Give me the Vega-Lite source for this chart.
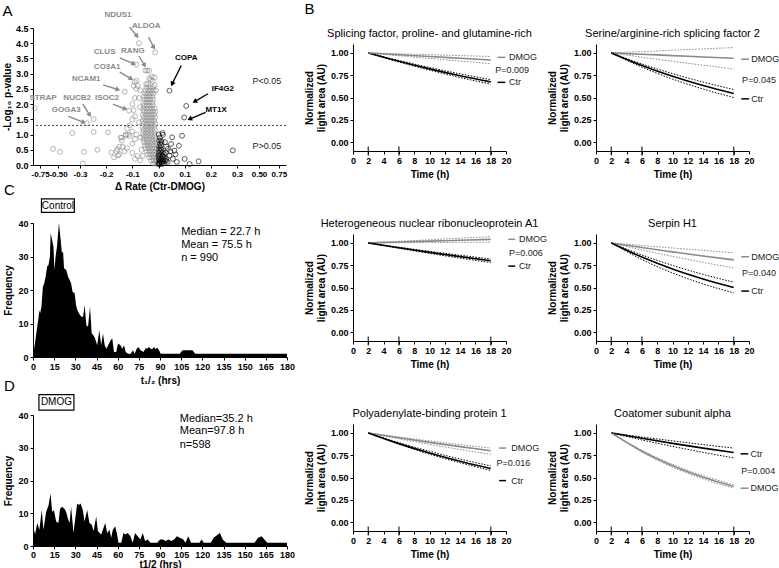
{
"$schema": "https://vega.github.io/schema/vega-lite/v6.json",
"padding": {"left": 2, "top": 2, "right": 0, "bottom": 0},
"background": "white",
"config": {
  "view": {"stroke": null},
  "font": "Liberation Sans",
  "axis": {"grid": false, "domainColor": "black", "tickColor": "black", "labelColor": "black", "titleColor": "black", "labelFont": "Liberation Sans", "titleFont": "Liberation Sans", "labelFontWeight": "bold", "labelFontSize": 9, "titleFontWeight": "bold", "titleFontSize": 10, "tickSize": 3, "labelPadding": 2, "labelFlush": false, "labelOverlap": false, "labelBound": false},
  "title": {"font": "Liberation Sans", "color": "black", "fontWeight": "normal"},
  "text": {"font": "Liberation Sans"}
},
"datasets": {
  "vol": [
    {"dr":-0.02,"lp":0.05},{"dr":-0.012,"lp":0.05},{"dr":-0.005,"lp":0.05},
    {"dr":-0.028,"lp":0.15},{"dr":-0.018,"lp":0.15},{"dr":-0.008,"lp":0.15},
    {"dr":-0.035,"lp":0.25},{"dr":-0.024,"lp":0.25},{"dr":-0.013,"lp":0.25},{"dr":-0.004,"lp":0.25},
    {"dr":-0.04,"lp":0.35},{"dr":-0.03,"lp":0.35},{"dr":-0.019,"lp":0.35},{"dr":-0.009,"lp":0.35},
    {"dr":-0.045,"lp":0.45},{"dr":-0.034,"lp":0.45},{"dr":-0.023,"lp":0.45},{"dr":-0.012,"lp":0.45},
    {"dr":-0.05,"lp":0.55},{"dr":-0.038,"lp":0.55},{"dr":-0.027,"lp":0.55},{"dr":-0.016,"lp":0.55},{"dr":-0.006,"lp":0.55},
    {"dr":-0.052,"lp":0.65},{"dr":-0.041,"lp":0.65},{"dr":-0.03,"lp":0.65},{"dr":-0.019,"lp":0.65},{"dr":-0.008,"lp":0.65},
    {"dr":-0.055,"lp":0.75},{"dr":-0.044,"lp":0.75},{"dr":-0.033,"lp":0.75},{"dr":-0.022,"lp":0.75},{"dr":-0.011,"lp":0.75},
    {"dr":-0.056,"lp":0.85},{"dr":-0.045,"lp":0.85},{"dr":-0.034,"lp":0.85},{"dr":-0.023,"lp":0.85},{"dr":-0.012,"lp":0.85},
    {"dr":-0.058,"lp":0.95},{"dr":-0.047,"lp":0.95},{"dr":-0.036,"lp":0.95},{"dr":-0.025,"lp":0.95},{"dr":-0.014,"lp":0.95},
    {"dr":-0.06,"lp":1.05},{"dr":-0.049,"lp":1.05},{"dr":-0.038,"lp":1.05},{"dr":-0.027,"lp":1.05},{"dr":-0.016,"lp":1.05},
    {"dr":-0.058,"lp":1.15},{"dr":-0.047,"lp":1.15},{"dr":-0.036,"lp":1.15},{"dr":-0.025,"lp":1.15},{"dr":-0.014,"lp":1.15},
    {"dr":-0.06,"lp":1.25},{"dr":-0.049,"lp":1.25},{"dr":-0.038,"lp":1.25},{"dr":-0.027,"lp":1.25},{"dr":-0.016,"lp":1.25},
    {"dr":-0.057,"lp":1.35},{"dr":-0.046,"lp":1.35},{"dr":-0.035,"lp":1.35},{"dr":-0.024,"lp":1.35},{"dr":-0.013,"lp":1.35},
    {"dr":-0.06,"lp":1.45},{"dr":-0.049,"lp":1.45},{"dr":-0.038,"lp":1.45},{"dr":-0.027,"lp":1.45},{"dr":-0.016,"lp":1.45},
    {"dr":-0.057,"lp":1.55},{"dr":-0.046,"lp":1.55},{"dr":-0.035,"lp":1.55},{"dr":-0.024,"lp":1.55},{"dr":-0.013,"lp":1.55},
    {"dr":-0.06,"lp":1.65},{"dr":-0.049,"lp":1.65},{"dr":-0.038,"lp":1.65},{"dr":-0.027,"lp":1.65},{"dr":-0.016,"lp":1.65},
    {"dr":-0.056,"lp":1.75},{"dr":-0.045,"lp":1.75},{"dr":-0.034,"lp":1.75},{"dr":-0.023,"lp":1.75},{"dr":-0.013,"lp":1.75},
    {"dr":-0.058,"lp":1.85},{"dr":-0.047,"lp":1.85},{"dr":-0.036,"lp":1.85},{"dr":-0.025,"lp":1.85},{"dr":-0.015,"lp":1.85},
    {"dr":-0.055,"lp":1.95},{"dr":-0.044,"lp":1.95},{"dr":-0.033,"lp":1.95},{"dr":-0.022,"lp":1.95},
    {"dr":-0.057,"lp":2.05},{"dr":-0.046,"lp":2.05},{"dr":-0.035,"lp":2.05},{"dr":-0.024,"lp":2.05},
    {"dr":-0.054,"lp":2.15},{"dr":-0.043,"lp":2.15},{"dr":-0.032,"lp":2.15},{"dr":-0.021,"lp":2.15},
    {"dr":-0.056,"lp":2.25},{"dr":-0.045,"lp":2.25},{"dr":-0.034,"lp":2.25},{"dr":-0.023,"lp":2.25},
    {"dr":-0.052,"lp":2.35},{"dr":-0.041,"lp":2.35},{"dr":-0.03,"lp":2.35},{"dr":-0.02,"lp":2.35},
    {"dr":-0.05,"lp":2.45},{"dr":-0.039,"lp":2.45},{"dr":-0.028,"lp":2.45},{"dr":-0.018,"lp":2.45},
    {"dr":-0.046,"lp":2.55},{"dr":-0.034,"lp":2.55},{"dr":-0.022,"lp":2.55},
    {"dr":-0.03,"lp":2.8},{"dr":-0.022,"lp":2.75},{"dr":-0.04,"lp":2.65},{"dr":-0.015,"lp":2.62},{"dr":-0.01,"lp":2.45},{"dr":-0.07,"lp":2.45},{"dr":-0.08,"lp":2.6},{"dr":-0.085,"lp":2.5},{"dr":-0.09,"lp":2.2},{"dr":-0.1,"lp":2.0},{"dr":-0.095,"lp":1.8},{"dr":-0.09,"lp":1.6},{"dr":-0.1,"lp":1.5},{"dr":-0.11,"lp":1.3},{"dr":-0.12,"lp":1.2},{"dr":-0.1,"lp":1.1},{"dr":-0.085,"lp":1.0},{"dr":-0.09,"lp":0.85},{"dr":-0.1,"lp":0.7},{"dr":-0.12,"lp":0.55},{"dr":-0.13,"lp":0.45},{"dr":-0.1,"lp":0.4},{"dr":-0.08,"lp":0.3},{"dr":-0.07,"lp":0.15},{"dr":-0.09,"lp":0.2},{"dr":-0.11,"lp":0.95},{"dr":-0.125,"lp":1.0},{"dr":-0.14,"lp":0.9},{"dr":-0.15,"lp":0.6},{"dr":-0.16,"lp":0.45},{"dr":-0.15,"lp":0.35},{"dr":-0.17,"lp":0.25},{"dr":-0.14,"lp":0.8},{"dr":-0.075,"lp":1.4},{"dr":-0.07,"lp":1.9},{"dr":-0.075,"lp":2.2},{"dr":-0.068,"lp":0.9},{"dr":-0.065,"lp":0.5},{"dr":-0.06,"lp":0.3},{"dr":-0.035,"lp":2.85},{"dr":-0.025,"lp":2.9},
    {"dr":-0.095,"lp":2.6},{"dr":-0.091,"lp":2.72},{"dr":-0.047,"lp":2.66},{"dr":-0.015,"lp":2.88},
    {"dr":-0.075,"lp":4.0},{"dr":-0.013,"lp":3.7},{"dr":-0.085,"lp":3.3},{"dr":-0.05,"lp":3.1},{"dr":-0.043,"lp":3.1},{"dr":-0.036,"lp":3.1},{"dr":-0.084,"lp":2.77},{"dr":-0.129,"lp":2.41},{"dr":-0.113,"lp":1.79},{"dr":-0.248,"lp":1.51},{"dr":-0.274,"lp":1.37},{"dr":-0.826,"lp":1.87},
    {"dr":-0.57,"lp":0.53},{"dr":-0.37,"lp":1.05},{"dr":-0.48,"lp":0.43},{"dr":-0.285,"lp":0.43},{"dr":-0.289,"lp":0.05},{"dr":-0.248,"lp":1.08},{"dr":-0.234,"lp":0.5},{"dr":-0.193,"lp":1.07},{"dr":-0.18,"lp":0.41},{"dr":-0.158,"lp":0.52},{"dr":-0.155,"lp":0.31},{"dr":-0.145,"lp":0.9},{"dr":-0.126,"lp":0.97},{"dr":-0.138,"lp":0.6},{"dr":-0.117,"lp":1.0},
    {"dr":0.042,"lp":2.44},{"dr":0.106,"lp":1.94},{"dr":0.098,"lp":1.56},
    {"dr":0.017,"lp":0.99},{"dr":0.052,"lp":0.91},{"dr":0.01,"lp":0.8},{"dr":0.09,"lp":0.96},{"dr":0.048,"lp":0.69},{"dr":0.078,"lp":0.63},{"dr":0.036,"lp":0.53},{"dr":0.061,"lp":0.47},{"dr":0.021,"lp":0.36},{"dr":0.1,"lp":0.2},{"dr":0.119,"lp":0.03},{"dr":0.153,"lp":0.12},{"dr":0.284,"lp":0.48},{"dr":0.042,"lp":0.31},{"dr":0.029,"lp":0.14},{"dr":0.015,"lp":1.05},{"dr":0.025,"lp":0.75},{"dr":0.03,"lp":0.6},{"dr":0.045,"lp":0.45},{"dr":0.055,"lp":0.2},{"dr":0.065,"lp":0.35},{"dr":0.07,"lp":0.1},
    {"dr":0.002,"lp":0.02},{"dr":0.005,"lp":0.05},{"dr":0.008,"lp":0.1},{"dr":0.004,"lp":0.15},{"dr":0.01,"lp":0.2},{"dr":0.012,"lp":0.08},{"dr":0.015,"lp":0.12},{"dr":0.006,"lp":0.25},{"dr":0.003,"lp":0.3},{"dr":0.009,"lp":0.35},{"dr":0.014,"lp":0.28},{"dr":0.018,"lp":0.18},{"dr":0.02,"lp":0.06},{"dr":0.001,"lp":0.4},{"dr":0.007,"lp":0.45},{"dr":0.011,"lp":0.5},{"dr":0.016,"lp":0.42},{"dr":0.022,"lp":0.25},{"dr":0.025,"lp":0.15},{"dr":0.003,"lp":0.6},{"dr":0.006,"lp":0.7},{"dr":0.01,"lp":0.65},{"dr":0.002,"lp":0.8},{"dr":0.004,"lp":0.1},{"dr":0.001,"lp":0.2},{"dr":0.013,"lp":0.03},{"dr":0.017,"lp":0.3},{"dr":0.008,"lp":0.55},{"dr":0.028,"lp":0.4},{"dr":0.03,"lp":0.2},{"dr":0.035,"lp":0.1},{"dr":0.005,"lp":0.9},{"dr":0.001,"lp":1.0},{"dr":0.012,"lp":0.75},{"dr":0.0,"lp":0.05},{"dr":0.0,"lp":0.3},{"dr":0.002,"lp":0.5}
  ],
  "arrows": [
    {"n":"NDUS1","g":"gray","x1":-0.11,"y1":4.53,"x2":-0.082,"y2":4.23,"a":141},
    {"n":"ALDOA","g":"gray","x1":-0.038,"y1":4.2,"x2":-0.018,"y2":3.86,"a":147},
    {"n":"CLUS","g":"gray","x1":-0.148,"y1":3.52,"x2":-0.094,"y2":3.32,"a":113},
    {"n":"RANG","g":"gray","x1":-0.075,"y1":3.58,"x2":-0.053,"y2":3.27,"a":149},
    {"n":"CO3A1","g":"gray","x1":-0.148,"y1":3.05,"x2":-0.104,"y2":2.83,"a":120},
    {"n":"NCAM1","g":"gray","x1":-0.212,"y1":2.63,"x2":-0.155,"y2":2.48,"a":107},
    {"n":"ISOC2","g":"gray","x1":-0.174,"y1":2.0,"x2":-0.127,"y2":1.84,"a":112},
    {"n":"NUCB2","g":"gray","x1":-0.289,"y1":2.0,"x2":-0.263,"y2":1.64,"a":149},
    {"n":"GOGA3","g":"gray","x1":-0.406,"y1":1.6,"x2":-0.286,"y2":1.4,"a":113},
    {"n":"COPA","g":"black","x1":0.087,"y1":3.27,"x2":0.052,"y2":2.66,"a":206},
    {"n":"IF4G2","g":"black","x1":0.189,"y1":2.34,"x2":0.138,"y2":2.08,"a":240},
    {"n":"MT1X","g":"black","x1":0.18,"y1":1.73,"x2":0.119,"y2":1.51,"a":247}
  ],
  "labs": [
    {"n":"NDUS1","g":"gray","x":-0.155,"y":4.93},{"n":"ALDOA","g":"gray","x":-0.047,"y":4.56},{"n":"CLUS","g":"gray","x":-0.206,"y":3.71},{"n":"RANG","g":"gray","x":-0.098,"y":3.76},{"n":"CO3A1","g":"gray","x":-0.196,"y":3.21},{"n":"NCAM1","g":"gray","x":-0.276,"y":2.83},{"n":"ISOC2","g":"gray","x":-0.197,"y":2.19},{"n":"NUCB2","g":"gray","x":-0.326,"y":2.19},{"n":"GOGA3","g":"gray","x":-0.425,"y":1.81},{"n":"STRAP","g":"gray","x":-0.71,"y":2.19},{"n":"COPA","g":"black","x":0.106,"y":3.51},{"n":"IF4G2","g":"black","x":0.246,"y":2.5},{"n":"MT1X","g":"black","x":0.22,"y":1.82}
  ],
  "ptxt": [{"label":"P<0.05","x":0.78,"y":2.76},{"label":"P>0.05","x":0.78,"y":0.62}],
  "cut": [{"y":1.3}],
  "ctrl": [
    {"h":0,"f":0},{"h":1,"f":3},{"h":2,"f":6},{"h":3,"f":9},{"h":4,"f":12},{"h":4.5,"f":14},{"h":5,"f":13},{"h":6,"f":15},{"h":7,"f":21},{"h":8,"f":22},{"h":9,"f":24},{"h":10,"f":27},{"h":11,"f":27.5},{"h":12,"f":30},{"h":12.5,"f":37},{"h":13.5,"f":35},{"h":14.5,"f":33},{"h":15.2,"f":26},{"h":16,"f":30},{"h":17,"f":33},{"h":18.4,"f":40},{"h":19.6,"f":35},{"h":20.5,"f":31},{"h":21.3,"f":31.5},{"h":22,"f":26.5},{"h":23.6,"f":26},{"h":24.8,"f":24},{"h":26,"f":23},{"h":27,"f":22},{"h":28,"f":19.5},{"h":29.5,"f":19},{"h":30.5,"f":15.5},{"h":31.4,"f":14},{"h":32.6,"f":13},{"h":34.3,"f":12},{"h":35.5,"f":12},{"h":36.6,"f":15.5},{"h":37.8,"f":9.5},{"h":39,"f":9},{"h":40.4,"f":15},{"h":41.6,"f":7},{"h":42.8,"f":6.5},{"h":44,"f":5.5},{"h":45.5,"f":3.5},{"h":47,"f":8},{"h":48.3,"f":3.5},{"h":49.6,"f":7},{"h":50.8,"f":3.5},{"h":52,"f":2.5},{"h":53.9,"f":4},{"h":55,"f":5},{"h":56.2,"f":5.5},{"h":57.4,"f":1.5},{"h":59,"f":1.5},{"h":60.2,"f":4},{"h":62,"f":3.5},{"h":63.3,"f":2.5},{"h":64.5,"f":3.5},{"h":65.7,"f":1.5},{"h":67.4,"f":1},{"h":69.3,"f":1},{"h":70.9,"f":2},{"h":72,"f":1},{"h":73.5,"f":2.5},{"h":74.6,"f":3},{"h":76.3,"f":2},{"h":78.2,"f":1.5},{"h":80,"f":2.7},{"h":81,"f":2.5},{"h":82,"f":3},{"h":83.5,"f":2.5},{"h":84.4,"f":2.3},{"h":85.8,"f":3},{"h":87,"f":2.3},{"h":88,"f":2.8},{"h":89.3,"f":2},{"h":90.5,"f":1},{"h":104,"f":1},{"h":106,"f":2},{"h":113,"f":2},{"h":115,"f":1},{"h":180,"f":1}
  ],
  "dmog": [
    {"h":0,"f":6},{"h":1.5,"f":3.6},{"h":3,"f":7},{"h":4.5,"f":5},{"h":6.2,"f":11},{"h":7.4,"f":5},{"h":9.3,"f":10.4},{"h":11,"f":12.4},{"h":12.4,"f":16},{"h":13.6,"f":10.4},{"h":14.8,"f":11},{"h":16.4,"f":7.5},{"h":18,"f":7},{"h":19.2,"f":11.4},{"h":20.6,"f":12},{"h":22.3,"f":11.4},{"h":23.5,"f":10.4},{"h":24.7,"f":8.4},{"h":25.9,"f":7},{"h":27,"f":12},{"h":28.7,"f":4},{"h":29.4,"f":6.5},{"h":31.3,"f":13},{"h":32.5,"f":12.5},{"h":33.7,"f":13},{"h":35.3,"f":11},{"h":36.5,"f":7.5},{"h":38.4,"f":11},{"h":40,"f":7},{"h":41.7,"f":6.5},{"h":42.9,"f":4.5},{"h":44.8,"f":9},{"h":46,"f":4.5},{"h":48.3,"f":3.5},{"h":51.2,"f":7},{"h":52.6,"f":4},{"h":54.2,"f":5},{"h":55.4,"f":2.5},{"h":56.6,"f":5},{"h":58.2,"f":6},{"h":59.6,"f":3.5},{"h":60.6,"f":1},{"h":62.5,"f":1},{"h":64.1,"f":4},{"h":65.3,"f":3.5},{"h":67.2,"f":4},{"h":69,"f":3},{"h":70.7,"f":1},{"h":72.3,"f":4},{"h":74.2,"f":3},{"h":76.1,"f":2},{"h":77.8,"f":4},{"h":79.4,"f":1.5},{"h":81.3,"f":2},{"h":83.2,"f":1},{"h":88,"f":1},{"h":90,"f":2},{"h":92,"f":2},{"h":94,"f":1.5},{"h":96,"f":2},{"h":98,"f":1.5},{"h":100,"f":2},{"h":102,"f":3},{"h":104,"f":2.5},{"h":106.5,"f":2},{"h":108,"f":1},{"h":110,"f":3},{"h":112,"f":1},{"h":118,"f":1},{"h":119.5,"f":2},{"h":121,"f":1},{"h":126,"f":1},{"h":128,"f":2.5},{"h":132.5,"f":4},{"h":134.4,"f":2},{"h":137,"f":1},{"h":157,"f":1},{"h":159.5,"f":2.5},{"h":162,"f":3},{"h":164,"f":2},{"h":166,"f":1},{"h":180,"f":1}
  ],
  "hbox": [
    {"p":"C","label":"Control","h1":6,"h2":29.3,"f1":43.2,"f2":47.2,"hc":17.7,"fc":45.2},
    {"p":"D","label":"DMOG","h1":4.2,"h2":29,"f1":41.5,"f2":46.2,"hc":16.6,"fc":43.85}
  ],
  "htext": [
    {"p":"C","label":"Median = 22.7 h","h":105,"f":37.3},{"p":"C","label":"Mean = 75.5 h","h":105,"f":33.4},{"p":"C","label":"n = 990","h":105,"f":29.5},
    {"p":"D","label":"Median=35.2 h","h":104,"f":38.8},{"p":"D","label":"Mean=97.8 h","h":104,"f":35},{"p":"D","label":"n=598","h":104,"f":30.8}
  ],
  "tp": [{"t":2},{"t":6},{"t":18}],
  "curves": [
    {"p":1,"g":"Ctr","b":"fit","t":2,"v":1},{"p":1,"g":"Ctr","b":"fit","t":6,"v":0.906},{"p":1,"g":"Ctr","b":"fit","t":10,"v":0.821},{"p":1,"g":"Ctr","b":"fit","t":14,"v":0.744},{"p":1,"g":"Ctr","b":"fit","t":18,"v":0.675},
    {"p":1,"g":"Ctr","b":"hi","t":2,"v":1},{"p":1,"g":"Ctr","b":"hi","t":6,"v":0.915},{"p":1,"g":"Ctr","b":"hi","t":10,"v":0.837},{"p":1,"g":"Ctr","b":"hi","t":14,"v":0.765},{"p":1,"g":"Ctr","b":"hi","t":18,"v":0.70},
    {"p":1,"g":"Ctr","b":"lo","t":2,"v":1},{"p":1,"g":"Ctr","b":"lo","t":6,"v":0.898},{"p":1,"g":"Ctr","b":"lo","t":10,"v":0.807},{"p":1,"g":"Ctr","b":"lo","t":14,"v":0.724},{"p":1,"g":"Ctr","b":"lo","t":18,"v":0.65},
    {"p":1,"g":"DMOG","b":"fit","t":2,"v":1},{"p":1,"g":"DMOG","b":"fit","t":6,"v":0.979},{"p":1,"g":"DMOG","b":"fit","t":10,"v":0.959},{"p":1,"g":"DMOG","b":"fit","t":14,"v":0.94},{"p":1,"g":"DMOG","b":"fit","t":18,"v":0.92},
    {"p":1,"g":"DMOG","b":"hi","t":2,"v":1},{"p":1,"g":"DMOG","b":"hi","t":6,"v":0.99},{"p":1,"g":"DMOG","b":"hi","t":10,"v":0.98},{"p":1,"g":"DMOG","b":"hi","t":14,"v":0.97},{"p":1,"g":"DMOG","b":"hi","t":18,"v":0.96},
    {"p":1,"g":"DMOG","b":"lo","t":2,"v":1},{"p":1,"g":"DMOG","b":"lo","t":6,"v":0.968},{"p":1,"g":"DMOG","b":"lo","t":10,"v":0.938},{"p":1,"g":"DMOG","b":"lo","t":14,"v":0.908},{"p":1,"g":"DMOG","b":"lo","t":18,"v":0.88},
    {"p":2,"g":"DMOG","b":"fit","t":2,"v":1},{"p":2,"g":"DMOG","b":"fit","t":6,"v":0.985},{"p":2,"g":"DMOG","b":"fit","t":10,"v":0.97},{"p":2,"g":"DMOG","b":"fit","t":14,"v":0.955},{"p":2,"g":"DMOG","b":"fit","t":18,"v":0.94},
    {"p":2,"g":"DMOG","b":"hi","t":2,"v":1},{"p":2,"g":"DMOG","b":"hi","t":6,"v":1.015},{"p":2,"g":"DMOG","b":"hi","t":10,"v":1.03},{"p":2,"g":"DMOG","b":"hi","t":14,"v":1.045},{"p":2,"g":"DMOG","b":"hi","t":18,"v":1.06},
    {"p":2,"g":"DMOG","b":"lo","t":2,"v":1},{"p":2,"g":"DMOG","b":"lo","t":6,"v":0.952},{"p":2,"g":"DMOG","b":"lo","t":10,"v":0.906},{"p":2,"g":"DMOG","b":"lo","t":14,"v":0.862},{"p":2,"g":"DMOG","b":"lo","t":18,"v":0.82},
    {"p":2,"g":"Ctr","b":"fit","t":2,"v":1},{"p":2,"g":"Ctr","b":"fit","t":6,"v":0.859},{"p":2,"g":"Ctr","b":"fit","t":10,"v":0.738},{"p":2,"g":"Ctr","b":"fit","t":14,"v":0.634},{"p":2,"g":"Ctr","b":"fit","t":18,"v":0.545},
    {"p":2,"g":"Ctr","b":"hi","t":2,"v":1},{"p":2,"g":"Ctr","b":"hi","t":6,"v":0.876},{"p":2,"g":"Ctr","b":"hi","t":10,"v":0.768},{"p":2,"g":"Ctr","b":"hi","t":14,"v":0.673},{"p":2,"g":"Ctr","b":"hi","t":18,"v":0.59},
    {"p":2,"g":"Ctr","b":"lo","t":2,"v":1},{"p":2,"g":"Ctr","b":"lo","t":6,"v":0.841},{"p":2,"g":"Ctr","b":"lo","t":10,"v":0.707},{"p":2,"g":"Ctr","b":"lo","t":14,"v":0.595},{"p":2,"g":"Ctr","b":"lo","t":18,"v":0.50},
    {"p":3,"g":"DMOG","b":"fit","t":2,"v":1},{"p":3,"g":"DMOG","b":"fit","t":6,"v":1.01},{"p":3,"g":"DMOG","b":"fit","t":10,"v":1.02},{"p":3,"g":"DMOG","b":"fit","t":14,"v":1.03},{"p":3,"g":"DMOG","b":"fit","t":18,"v":1.04},
    {"p":3,"g":"DMOG","b":"hi","t":2,"v":1},{"p":3,"g":"DMOG","b":"hi","t":6,"v":1.018},{"p":3,"g":"DMOG","b":"hi","t":10,"v":1.035},{"p":3,"g":"DMOG","b":"hi","t":14,"v":1.053},{"p":3,"g":"DMOG","b":"hi","t":18,"v":1.07},
    {"p":3,"g":"DMOG","b":"lo","t":2,"v":1},{"p":3,"g":"DMOG","b":"lo","t":6,"v":1.002},{"p":3,"g":"DMOG","b":"lo","t":10,"v":1.004},{"p":3,"g":"DMOG","b":"lo","t":14,"v":1.006},{"p":3,"g":"DMOG","b":"lo","t":18,"v":1.008},
    {"p":3,"g":"Ctr","b":"fit","t":2,"v":1},{"p":3,"g":"Ctr","b":"fit","t":6,"v":0.946},{"p":3,"g":"Ctr","b":"fit","t":10,"v":0.894},{"p":3,"g":"Ctr","b":"fit","t":14,"v":0.846},{"p":3,"g":"Ctr","b":"fit","t":18,"v":0.80},
    {"p":3,"g":"Ctr","b":"hi","t":2,"v":1},{"p":3,"g":"Ctr","b":"hi","t":6,"v":0.952},{"p":3,"g":"Ctr","b":"hi","t":10,"v":0.906},{"p":3,"g":"Ctr","b":"hi","t":14,"v":0.862},{"p":3,"g":"Ctr","b":"hi","t":18,"v":0.82},
    {"p":3,"g":"Ctr","b":"lo","t":2,"v":1},{"p":3,"g":"Ctr","b":"lo","t":6,"v":0.94},{"p":3,"g":"Ctr","b":"lo","t":10,"v":0.883},{"p":3,"g":"Ctr","b":"lo","t":14,"v":0.829},{"p":3,"g":"Ctr","b":"lo","t":18,"v":0.78},
    {"p":4,"g":"DMOG","b":"fit","t":2,"v":1},{"p":4,"g":"DMOG","b":"fit","t":6,"v":0.948},{"p":4,"g":"DMOG","b":"fit","t":10,"v":0.90},{"p":4,"g":"DMOG","b":"fit","t":14,"v":0.853},{"p":4,"g":"DMOG","b":"fit","t":18,"v":0.81},
    {"p":4,"g":"DMOG","b":"hi","t":2,"v":1},{"p":4,"g":"DMOG","b":"hi","t":6,"v":0.971},{"p":4,"g":"DMOG","b":"hi","t":10,"v":0.943},{"p":4,"g":"DMOG","b":"hi","t":14,"v":0.917},{"p":4,"g":"DMOG","b":"hi","t":18,"v":0.89},
    {"p":4,"g":"DMOG","b":"lo","t":2,"v":1},{"p":4,"g":"DMOG","b":"lo","t":6,"v":0.921},{"p":4,"g":"DMOG","b":"lo","t":10,"v":0.849},{"p":4,"g":"DMOG","b":"lo","t":14,"v":0.782},{"p":4,"g":"DMOG","b":"lo","t":18,"v":0.72},
    {"p":4,"g":"Ctr","b":"fit","t":2,"v":1},{"p":4,"g":"Ctr","b":"fit","t":6,"v":0.841},{"p":4,"g":"Ctr","b":"fit","t":10,"v":0.707},{"p":4,"g":"Ctr","b":"fit","t":14,"v":0.595},{"p":4,"g":"Ctr","b":"fit","t":18,"v":0.50},
    {"p":4,"g":"Ctr","b":"hi","t":2,"v":1},{"p":4,"g":"Ctr","b":"hi","t":6,"v":0.865},{"p":4,"g":"Ctr","b":"hi","t":10,"v":0.748},{"p":4,"g":"Ctr","b":"hi","t":14,"v":0.647},{"p":4,"g":"Ctr","b":"hi","t":18,"v":0.56},
    {"p":4,"g":"Ctr","b":"lo","t":2,"v":1},{"p":4,"g":"Ctr","b":"lo","t":6,"v":0.814},{"p":4,"g":"Ctr","b":"lo","t":10,"v":0.663},{"p":4,"g":"Ctr","b":"lo","t":14,"v":0.54},{"p":4,"g":"Ctr","b":"lo","t":18,"v":0.44},
    {"p":5,"g":"DMOG","b":"fit","t":2,"v":1},{"p":5,"g":"DMOG","b":"fit","t":6,"v":0.946},{"p":5,"g":"DMOG","b":"fit","t":10,"v":0.894},{"p":5,"g":"DMOG","b":"fit","t":14,"v":0.846},{"p":5,"g":"DMOG","b":"fit","t":18,"v":0.80},
    {"p":5,"g":"DMOG","b":"hi","t":2,"v":1},{"p":5,"g":"DMOG","b":"hi","t":6,"v":0.954},{"p":5,"g":"DMOG","b":"hi","t":10,"v":0.911},{"p":5,"g":"DMOG","b":"hi","t":14,"v":0.869},{"p":5,"g":"DMOG","b":"hi","t":18,"v":0.83},
    {"p":5,"g":"DMOG","b":"lo","t":2,"v":1},{"p":5,"g":"DMOG","b":"lo","t":6,"v":0.934},{"p":5,"g":"DMOG","b":"lo","t":10,"v":0.872},{"p":5,"g":"DMOG","b":"lo","t":14,"v":0.814},{"p":5,"g":"DMOG","b":"lo","t":18,"v":0.76},
    {"p":5,"g":"Ctr","b":"fit","t":2,"v":1},{"p":5,"g":"Ctr","b":"fit","t":6,"v":0.88},{"p":5,"g":"Ctr","b":"fit","t":10,"v":0.775},{"p":5,"g":"Ctr","b":"fit","t":14,"v":0.682},{"p":5,"g":"Ctr","b":"fit","t":18,"v":0.60},
    {"p":5,"g":"Ctr","b":"hi","t":2,"v":1},{"p":5,"g":"Ctr","b":"hi","t":6,"v":0.891},{"p":5,"g":"Ctr","b":"hi","t":10,"v":0.794},{"p":5,"g":"Ctr","b":"hi","t":14,"v":0.707},{"p":5,"g":"Ctr","b":"hi","t":18,"v":0.63},
    {"p":5,"g":"Ctr","b":"lo","t":2,"v":1},{"p":5,"g":"Ctr","b":"lo","t":6,"v":0.873},{"p":5,"g":"Ctr","b":"lo","t":10,"v":0.762},{"p":5,"g":"Ctr","b":"lo","t":14,"v":0.665},{"p":5,"g":"Ctr","b":"lo","t":18,"v":0.58},
    {"p":6,"g":"Ctr","b":"fit","t":2,"v":1},{"p":6,"g":"Ctr","b":"fit","t":6,"v":0.94},{"p":6,"g":"Ctr","b":"fit","t":10,"v":0.883},{"p":6,"g":"Ctr","b":"fit","t":14,"v":0.829},{"p":6,"g":"Ctr","b":"fit","t":18,"v":0.78},
    {"p":6,"g":"Ctr","b":"hi","t":2,"v":1},{"p":6,"g":"Ctr","b":"hi","t":6,"v":0.954},{"p":6,"g":"Ctr","b":"hi","t":10,"v":0.911},{"p":6,"g":"Ctr","b":"hi","t":14,"v":0.869},{"p":6,"g":"Ctr","b":"hi","t":18,"v":0.83},
    {"p":6,"g":"Ctr","b":"lo","t":2,"v":1},{"p":6,"g":"Ctr","b":"lo","t":6,"v":0.921},{"p":6,"g":"Ctr","b":"lo","t":10,"v":0.849},{"p":6,"g":"Ctr","b":"lo","t":14,"v":0.782},{"p":6,"g":"Ctr","b":"lo","t":18,"v":0.72},
    {"p":6,"g":"DMOG","b":"fit","t":2,"v":1},{"p":6,"g":"DMOG","b":"fit","t":6,"v":0.795},{"p":6,"g":"DMOG","b":"fit","t":10,"v":0.632},{"p":6,"g":"DMOG","b":"fit","t":14,"v":0.503},{"p":6,"g":"DMOG","b":"fit","t":18,"v":0.40},
    {"p":6,"g":"DMOG","b":"hi","t":2,"v":1},{"p":6,"g":"DMOG","b":"hi","t":6,"v":0.805},{"p":6,"g":"DMOG","b":"hi","t":10,"v":0.648},{"p":6,"g":"DMOG","b":"hi","t":14,"v":0.521},{"p":6,"g":"DMOG","b":"hi","t":18,"v":0.42},
    {"p":6,"g":"DMOG","b":"lo","t":2,"v":1},{"p":6,"g":"DMOG","b":"lo","t":6,"v":0.785},{"p":6,"g":"DMOG","b":"lo","t":10,"v":0.616},{"p":6,"g":"DMOG","b":"lo","t":14,"v":0.484},{"p":6,"g":"DMOG","b":"lo","t":18,"v":0.38}
  ],
  "leg": [
    {"p":1,"g":"DMOG","label":"DMOG","x1":18.9,"x2":19.9,"tx":20.4,"v":0.95},{"p":1,"g":"P","label":"P=0.009","tx":18.6,"v":0.81},{"p":1,"g":"Ctr","label":"Ctr","x1":18.9,"x2":19.9,"tx":20.4,"v":0.67},
    {"p":2,"g":"DMOG","label":"DMOG","x1":19.0,"x2":20.0,"tx":20.3,"v":0.93},{"p":2,"g":"P","label":"P=0.045","tx":19.1,"v":0.70},{"p":2,"g":"Ctr","label":"Ctr","x1":19.0,"x2":20.0,"tx":20.3,"v":0.485},
    {"p":3,"g":"DMOG","label":"DMOG","x1":20.3,"x2":21.2,"tx":21.7,"v":1.04},{"p":3,"g":"P","label":"P=0.006","tx":20.4,"v":0.89},{"p":3,"g":"Ctr","label":"Ctr","x1":20.3,"x2":21.2,"tx":21.7,"v":0.74},
    {"p":4,"g":"DMOG","label":"DMOG","x1":19.0,"x2":20.0,"tx":20.3,"v":0.845},{"p":4,"g":"P","label":"P=0.040","tx":19.1,"v":0.66},{"p":4,"g":"Ctr","label":"Ctr","x1":19.0,"x2":20.0,"tx":20.3,"v":0.46},
    {"p":5,"g":"DMOG","label":"DMOG","x1":19.1,"x2":20.0,"tx":20.7,"v":0.83},{"p":5,"g":"P","label":"P=0.016","tx":18.75,"v":0.66},{"p":5,"g":"Ctr","label":"Ctr","x1":19.1,"x2":20.0,"tx":20.7,"v":0.465},
    {"p":6,"g":"Ctr","label":"Ctr","x1":18.9,"x2":19.9,"tx":20.2,"v":0.765},{"p":6,"g":"P","label":"P=0.004","tx":19.0,"v":0.57},{"p":6,"g":"DMOG","label":"DMOG","x1":18.9,"x2":19.9,"tx":20.2,"v":0.38}
  ],
  "none": []
},
"columns": 2,
"align": "none",
"spacing": 9,
"concat": [
  {
    "vconcat": [
      {
        "width": 253, "height": 137,
        "title": {"text": "A", "anchor": "start", "frame": "bounds", "fontSize": 15, "offset": -8},
        "layer": [
          {"data": {"name": "cut"}, "mark": {"type": "rule", "strokeDash": [2, 2], "color": "#444", "strokeWidth": 1}, "encoding": {"y": {"field": "y", "type": "quantitative"}}},
          {"data": {"name": "vol"}, "mark": {"type": "point", "filled": false, "size": 24, "strokeWidth": 0.9},
           "encoding": {
             "x": {"field": "dr", "type": "quantitative", "scale": {"domain": [-0.85, -0.5, -0.3, 0.3, 0.5, 0.84], "range": [0, 25, 47, 204, 226, 253], "nice": false, "zero": false},
                   "axis": {"values": [-0.75, -0.5, -0.3, -0.2, -0.1, 0, 0.1, 0.2, 0.3, 0.5, 0.75], "tickCount": 50, "labelOverlap": false, "labelFontSize": 8, "labelExpr": "replace(abs(datum.value) >= 0.45 ? format(datum.value, '.2f') : format(datum.value, '.1f'), '−', '-')", "title": "Δ Rate (Ctr-DMOG)", "titlePadding": 3}},
             "y": {"field": "lp", "type": "quantitative", "scale": {"domain": [0, 4.5], "nice": false}, "axis": {"values": [0, 0.5, 1, 1.5, 2, 2.5, 3, 3.5, 4, 4.5], "tickCount": 50, "labelOverlap": false, "format": ".1f", "title": "-Log₁₀ p-value", "titlePadding": 3}},
             "stroke": {"condition": {"test": "datum.dr < 0", "value": "#8a8a8a"}, "value": "black"}
           }},
          {"data": {"name": "arrows"}, "mark": {"type": "rule", "strokeWidth": 1.4},
           "encoding": {"x": {"field": "x1", "type": "quantitative"}, "y": {"field": "y1", "type": "quantitative"}, "x2": {"field": "x2"}, "y2": {"field": "y2"},
             "color": {"field": "g", "type": "nominal", "scale": {"domain": ["gray", "black"], "range": ["#8a8a8a", "black"]}, "legend": null}}},
          {"data": {"name": "arrows"}, "mark": {"type": "point", "shape": "triangle-up", "filled": true, "size": 30, "opacity": 1},
           "encoding": {"x": {"field": "x2", "type": "quantitative"}, "y": {"field": "y2", "type": "quantitative"}, "angle": {"field": "a", "type": "quantitative", "scale": null},
             "color": {"field": "g", "type": "nominal", "legend": null}}},
          {"data": {"name": "labs"}, "mark": {"type": "text", "fontSize": 8, "fontWeight": "bold"},
           "encoding": {"x": {"field": "x", "type": "quantitative"}, "y": {"field": "y", "type": "quantitative"}, "text": {"field": "n"},
             "color": {"field": "g", "type": "nominal", "legend": null}}},
          {"data": {"name": "ptxt"}, "mark": {"type": "text", "fontSize": 9, "align": "right", "color": "#222"},
           "encoding": {"x": {"field": "x", "type": "quantitative"}, "y": {"field": "y", "type": "quantitative"}, "text": {"field": "label"}}}
        ]
      },
      {
        "width": 254, "height": 134,
        "title": {"text": "C", "anchor": "start", "frame": "bounds", "fontSize": 15, "offset": 0},
        "layer": [
          {"data": {"name": "ctrl"}, "mark": {"type": "area", "color": "black", "interpolate": "linear"},
           "encoding": {
             "x": {"field": "h", "type": "quantitative", "scale": {"domain": [0, 180], "nice": false}, "axis": {"values": [0, 15, 30, 45, 60, 75, 90, 105, 120, 135, 150, 165, 180], "tickCount": 50, "labelOverlap": false, "format": "d", "title": "t₁/₂ (hrs)"}},
             "y": {"field": "f", "type": "quantitative", "scale": {"domain": [0, 40], "nice": false}, "axis": {"values": [0, 10, 20, 30, 40], "tickCount": 50, "labelOverlap": false, "format": "d", "title": "Frequency"}}
           }},
          {"data": {"name": "hbox"}, "transform": [{"filter": "datum.p == 'C'"}], "mark": {"type": "rect", "fill": "white", "stroke": "black", "strokeWidth": 1.2},
           "encoding": {"x": {"field": "h1", "type": "quantitative"}, "x2": {"field": "h2"}, "y": {"field": "f1", "type": "quantitative"}, "y2": {"field": "f2"}}},
          {"data": {"name": "hbox"}, "transform": [{"filter": "datum.p == 'C'"}], "mark": {"type": "text", "fontSize": 10, "color": "black"},
           "encoding": {"x": {"field": "hc", "type": "quantitative"}, "y": {"field": "fc", "type": "quantitative"}, "text": {"field": "label"}}},
          {"data": {"name": "htext"}, "transform": [{"filter": "datum.p == 'C'"}], "mark": {"type": "text", "fontSize": 11, "align": "left", "color": "black"},
           "encoding": {"x": {"field": "h", "type": "quantitative"}, "y": {"field": "f", "type": "quantitative"}, "text": {"field": "label"}}}
        ]
      },
      {
        "width": 254, "height": 131,
        "title": {"text": "D", "anchor": "start", "frame": "bounds", "fontSize": 15, "offset": 0},
        "layer": [
          {"data": {"name": "dmog"}, "mark": {"type": "area", "color": "black", "interpolate": "linear"},
           "encoding": {
             "x": {"field": "h", "type": "quantitative", "scale": {"domain": [0, 180], "nice": false}, "axis": {"values": [0, 15, 30, 45, 60, 75, 90, 105, 120, 135, 150, 165, 180], "tickCount": 50, "labelOverlap": false, "format": "d", "title": "t1/2 (hrs)", "titlePadding": 0, "labelPadding": 1}},
             "y": {"field": "f", "type": "quantitative", "scale": {"domain": [0, 40], "nice": false}, "axis": {"values": [0, 10, 20, 30, 40], "tickCount": 50, "labelOverlap": false, "format": "d", "title": "Frequency"}}
           }},
          {"data": {"name": "hbox"}, "transform": [{"filter": "datum.p == 'D'"}], "mark": {"type": "rect", "fill": "white", "stroke": "black", "strokeWidth": 1.2},
           "encoding": {"x": {"field": "h1", "type": "quantitative"}, "x2": {"field": "h2"}, "y": {"field": "f1", "type": "quantitative"}, "y2": {"field": "f2"}}},
          {"data": {"name": "hbox"}, "transform": [{"filter": "datum.p == 'D'"}], "mark": {"type": "text", "fontSize": 10, "color": "black"},
           "encoding": {"x": {"field": "hc", "type": "quantitative"}, "y": {"field": "fc", "type": "quantitative"}, "text": {"field": "label"}}},
          {"data": {"name": "htext"}, "transform": [{"filter": "datum.p == 'D'"}], "mark": {"type": "text", "fontSize": 11, "align": "left", "color": "black"},
           "encoding": {"x": {"field": "h", "type": "quantitative"}, "y": {"field": "f", "type": "quantitative"}, "text": {"field": "label"}}}
        ]
      }
    ],
    "spacing": 58,
    "bounds": "flush"
  },
  {
    "title": {"text": "B", "anchor": "start", "frame": "bounds", "fontSize": 15, "fontWeight": "normal", "offset": 11},
    "spacing": 15,
    "bounds": "flush",
    "vconcat": [
      {"width": 153, "height": 1, "data": {"name": "none"}, "mark": "point"},
      {
        "columns": 2,
        "spacing": {"row": 83, "column": 90},
        "bounds": "flush",
        "concat": [
          {"width": 153, "height": 107, "title": {"text": "Splicing factor, proline- and glutamine-rich", "fontSize": 11, "offset": 5, "anchor": "middle"},
           "layer": [
            {"data": {"name": "curves"}, "transform": [{"filter": "datum.p == 1 && datum.b == 'fit'"}], "mark": {"type": "line", "interpolate": "monotone", "strokeWidth": 1.6},
             "encoding": {"x": {"field": "t", "type": "quantitative", "scale": {"domain": [0, 20], "nice": false}, "axis": {"values": [0, 2, 4, 6, 8, 10, 12, 14, 16, 18, 20], "tickCount": 50, "labelOverlap": false, "format": "d", "title": "Time (h)"}},
               "y": {"field": "v", "type": "quantitative", "scale": {"domain": [-0.1, 1.1], "nice": false, "zero": false}, "axis": {"values": [0, 0.25, 0.5, 0.75, 1], "tickCount": 50, "labelOverlap": false, "format": ".2f", "title": ["Normalized", "light area (AU)"]}},
               "color": {"field": "g", "type": "nominal", "scale": {"domain": ["DMOG", "Ctr"], "range": ["#a8a8a8", "black"]}, "legend": null}}},
            {"data": {"name": "curves"}, "transform": [{"filter": "datum.p == 1 && datum.b != 'fit'"}], "mark": {"type": "line", "interpolate": "monotone", "strokeWidth": 1, "strokeDash": [1.5, 1.5]},
             "encoding": {"x": {"field": "t", "type": "quantitative"}, "y": {"field": "v", "type": "quantitative"}, "color": {"field": "g", "type": "nominal", "legend": null}, "detail": {"field": "b"}}},
            {"data": {"name": "tp"}, "mark": {"type": "tick", "orient": "vertical", "color": "black", "size": 9, "thickness": 1.5}, "encoding": {"x": {"field": "t", "type": "quantitative"}, "y": {"datum": -0.1}}},
            {"data": {"name": "leg"}, "transform": [{"filter": "datum.p == 1 && datum.g != 'P'"}], "mark": {"type": "rule", "strokeWidth": 1.5},
             "encoding": {"x": {"field": "x1", "type": "quantitative"}, "x2": {"field": "x2"}, "y": {"field": "v", "type": "quantitative"}, "color": {"field": "g", "type": "nominal", "legend": null}}},
            {"data": {"name": "leg"}, "transform": [{"filter": "datum.p == 1"}], "mark": {"type": "text", "align": "left", "fontSize": 9, "color": "#222"},
             "encoding": {"x": {"field": "tx", "type": "quantitative"}, "y": {"field": "v", "type": "quantitative"}, "text": {"field": "label"}}}
           ]},
          {"width": 153, "height": 107, "title": {"text": "Serine/arginine-rich splicing factor 2", "fontSize": 11, "offset": 5, "anchor": "middle"},
           "layer": [
            {"data": {"name": "curves"}, "transform": [{"filter": "datum.p == 2 && datum.b == 'fit'"}], "mark": {"type": "line", "interpolate": "monotone", "strokeWidth": 1.6},
             "encoding": {"x": {"field": "t", "type": "quantitative", "scale": {"domain": [0, 20], "nice": false}, "axis": {"values": [0, 2, 4, 6, 8, 10, 12, 14, 16, 18, 20], "tickCount": 50, "labelOverlap": false, "format": "d", "title": "Time (h)"}},
               "y": {"field": "v", "type": "quantitative", "scale": {"domain": [-0.1, 1.1], "nice": false, "zero": false}, "axis": {"values": [0, 0.25, 0.5, 0.75, 1], "tickCount": 50, "labelOverlap": false, "format": ".2f", "title": ["Normalized", "light area (AU)"]}},
               "color": {"field": "g", "type": "nominal", "scale": {"domain": ["DMOG", "Ctr"], "range": ["#a8a8a8", "black"]}, "legend": null}}},
            {"data": {"name": "curves"}, "transform": [{"filter": "datum.p == 2 && datum.b != 'fit'"}], "mark": {"type": "line", "interpolate": "monotone", "strokeWidth": 1, "strokeDash": [1.5, 1.5]},
             "encoding": {"x": {"field": "t", "type": "quantitative"}, "y": {"field": "v", "type": "quantitative"}, "color": {"field": "g", "type": "nominal", "legend": null}, "detail": {"field": "b"}}},
            {"data": {"name": "tp"}, "mark": {"type": "tick", "orient": "vertical", "color": "black", "size": 9, "thickness": 1.5}, "encoding": {"x": {"field": "t", "type": "quantitative"}, "y": {"datum": -0.1}}},
            {"data": {"name": "leg"}, "transform": [{"filter": "datum.p == 2 && datum.g != 'P'"}], "mark": {"type": "rule", "strokeWidth": 1.5},
             "encoding": {"x": {"field": "x1", "type": "quantitative"}, "x2": {"field": "x2"}, "y": {"field": "v", "type": "quantitative"}, "color": {"field": "g", "type": "nominal", "legend": null}}},
            {"data": {"name": "leg"}, "transform": [{"filter": "datum.p == 2"}], "mark": {"type": "text", "align": "left", "fontSize": 9, "color": "#222"},
             "encoding": {"x": {"field": "tx", "type": "quantitative"}, "y": {"field": "v", "type": "quantitative"}, "text": {"field": "label"}}}
           ]},
          {"width": 153, "height": 107, "title": {"text": "Heterogeneous nuclear ribonucleoprotein A1", "fontSize": 11, "offset": 5, "anchor": "middle"},
           "layer": [
            {"data": {"name": "curves"}, "transform": [{"filter": "datum.p == 3 && datum.b == 'fit'"}], "mark": {"type": "line", "interpolate": "monotone", "strokeWidth": 1.6},
             "encoding": {"x": {"field": "t", "type": "quantitative", "scale": {"domain": [0, 20], "nice": false}, "axis": {"values": [0, 2, 4, 6, 8, 10, 12, 14, 16, 18, 20], "tickCount": 50, "labelOverlap": false, "format": "d", "title": "Time (h)"}},
               "y": {"field": "v", "type": "quantitative", "scale": {"domain": [-0.1, 1.1], "nice": false, "zero": false}, "axis": {"values": [0, 0.25, 0.5, 0.75, 1], "tickCount": 50, "labelOverlap": false, "format": ".2f", "title": ["Normalized", "light area (AU)"]}},
               "color": {"field": "g", "type": "nominal", "scale": {"domain": ["DMOG", "Ctr"], "range": ["#a8a8a8", "black"]}, "legend": null}}},
            {"data": {"name": "curves"}, "transform": [{"filter": "datum.p == 3 && datum.b != 'fit'"}], "mark": {"type": "line", "interpolate": "monotone", "strokeWidth": 1, "strokeDash": [1.5, 1.5]},
             "encoding": {"x": {"field": "t", "type": "quantitative"}, "y": {"field": "v", "type": "quantitative"}, "color": {"field": "g", "type": "nominal", "legend": null}, "detail": {"field": "b"}}},
            {"data": {"name": "tp"}, "mark": {"type": "tick", "orient": "vertical", "color": "black", "size": 9, "thickness": 1.5}, "encoding": {"x": {"field": "t", "type": "quantitative"}, "y": {"datum": -0.1}}},
            {"data": {"name": "leg"}, "transform": [{"filter": "datum.p == 3 && datum.g != 'P'"}], "mark": {"type": "rule", "strokeWidth": 1.5},
             "encoding": {"x": {"field": "x1", "type": "quantitative"}, "x2": {"field": "x2"}, "y": {"field": "v", "type": "quantitative"}, "color": {"field": "g", "type": "nominal", "legend": null}}},
            {"data": {"name": "leg"}, "transform": [{"filter": "datum.p == 3"}], "mark": {"type": "text", "align": "left", "fontSize": 9, "color": "#222"},
             "encoding": {"x": {"field": "tx", "type": "quantitative"}, "y": {"field": "v", "type": "quantitative"}, "text": {"field": "label"}}}
           ]},
          {"width": 153, "height": 107, "title": {"text": "Serpin H1", "fontSize": 11, "offset": 5, "anchor": "middle"},
           "layer": [
            {"data": {"name": "curves"}, "transform": [{"filter": "datum.p == 4 && datum.b == 'fit'"}], "mark": {"type": "line", "interpolate": "monotone", "strokeWidth": 1.6},
             "encoding": {"x": {"field": "t", "type": "quantitative", "scale": {"domain": [0, 20], "nice": false}, "axis": {"values": [0, 2, 4, 6, 8, 10, 12, 14, 16, 18, 20], "tickCount": 50, "labelOverlap": false, "format": "d", "title": "Time (h)"}},
               "y": {"field": "v", "type": "quantitative", "scale": {"domain": [-0.1, 1.1], "nice": false, "zero": false}, "axis": {"values": [0, 0.25, 0.5, 0.75, 1], "tickCount": 50, "labelOverlap": false, "format": ".2f", "title": ["Normalized", "light area (AU)"]}},
               "color": {"field": "g", "type": "nominal", "scale": {"domain": ["DMOG", "Ctr"], "range": ["#a8a8a8", "black"]}, "legend": null}}},
            {"data": {"name": "curves"}, "transform": [{"filter": "datum.p == 4 && datum.b != 'fit'"}], "mark": {"type": "line", "interpolate": "monotone", "strokeWidth": 1, "strokeDash": [1.5, 1.5]},
             "encoding": {"x": {"field": "t", "type": "quantitative"}, "y": {"field": "v", "type": "quantitative"}, "color": {"field": "g", "type": "nominal", "legend": null}, "detail": {"field": "b"}}},
            {"data": {"name": "tp"}, "mark": {"type": "tick", "orient": "vertical", "color": "black", "size": 9, "thickness": 1.5}, "encoding": {"x": {"field": "t", "type": "quantitative"}, "y": {"datum": -0.1}}},
            {"data": {"name": "leg"}, "transform": [{"filter": "datum.p == 4 && datum.g != 'P'"}], "mark": {"type": "rule", "strokeWidth": 1.5},
             "encoding": {"x": {"field": "x1", "type": "quantitative"}, "x2": {"field": "x2"}, "y": {"field": "v", "type": "quantitative"}, "color": {"field": "g", "type": "nominal", "legend": null}}},
            {"data": {"name": "leg"}, "transform": [{"filter": "datum.p == 4"}], "mark": {"type": "text", "align": "left", "fontSize": 9, "color": "#222"},
             "encoding": {"x": {"field": "tx", "type": "quantitative"}, "y": {"field": "v", "type": "quantitative"}, "text": {"field": "label"}}}
           ]},
          {"width": 153, "height": 107, "title": {"text": "Polyadenylate-binding protein 1", "fontSize": 11, "offset": 5, "anchor": "middle"},
           "layer": [
            {"data": {"name": "curves"}, "transform": [{"filter": "datum.p == 5 && datum.b == 'fit'"}], "mark": {"type": "line", "interpolate": "monotone", "strokeWidth": 1.6},
             "encoding": {"x": {"field": "t", "type": "quantitative", "scale": {"domain": [0, 20], "nice": false}, "axis": {"values": [0, 2, 4, 6, 8, 10, 12, 14, 16, 18, 20], "tickCount": 50, "labelOverlap": false, "format": "d", "title": "Time (h)"}},
               "y": {"field": "v", "type": "quantitative", "scale": {"domain": [-0.1, 1.1], "nice": false, "zero": false}, "axis": {"values": [0, 0.25, 0.5, 0.75, 1], "tickCount": 50, "labelOverlap": false, "format": ".2f", "title": ["Normalized", "light area (AU)"]}},
               "color": {"field": "g", "type": "nominal", "scale": {"domain": ["DMOG", "Ctr"], "range": ["#a8a8a8", "black"]}, "legend": null}}},
            {"data": {"name": "curves"}, "transform": [{"filter": "datum.p == 5 && datum.b != 'fit'"}], "mark": {"type": "line", "interpolate": "monotone", "strokeWidth": 1, "strokeDash": [1.5, 1.5]},
             "encoding": {"x": {"field": "t", "type": "quantitative"}, "y": {"field": "v", "type": "quantitative"}, "color": {"field": "g", "type": "nominal", "legend": null}, "detail": {"field": "b"}}},
            {"data": {"name": "tp"}, "mark": {"type": "tick", "orient": "vertical", "color": "black", "size": 9, "thickness": 1.5}, "encoding": {"x": {"field": "t", "type": "quantitative"}, "y": {"datum": -0.1}}},
            {"data": {"name": "leg"}, "transform": [{"filter": "datum.p == 5 && datum.g != 'P'"}], "mark": {"type": "rule", "strokeWidth": 1.5},
             "encoding": {"x": {"field": "x1", "type": "quantitative"}, "x2": {"field": "x2"}, "y": {"field": "v", "type": "quantitative"}, "color": {"field": "g", "type": "nominal", "legend": null}}},
            {"data": {"name": "leg"}, "transform": [{"filter": "datum.p == 5"}], "mark": {"type": "text", "align": "left", "fontSize": 9, "color": "#222"},
             "encoding": {"x": {"field": "tx", "type": "quantitative"}, "y": {"field": "v", "type": "quantitative"}, "text": {"field": "label"}}}
           ]},
          {"width": 153, "height": 107, "title": {"text": "Coatomer subunit alpha", "fontSize": 11, "offset": 5, "anchor": "middle"},
           "layer": [
            {"data": {"name": "curves"}, "transform": [{"filter": "datum.p == 6 && datum.b == 'fit'"}], "mark": {"type": "line", "interpolate": "monotone", "strokeWidth": 1.6},
             "encoding": {"x": {"field": "t", "type": "quantitative", "scale": {"domain": [0, 20], "nice": false}, "axis": {"values": [0, 2, 4, 6, 8, 10, 12, 14, 16, 18, 20], "tickCount": 50, "labelOverlap": false, "format": "d", "title": "Time (h)"}},
               "y": {"field": "v", "type": "quantitative", "scale": {"domain": [-0.1, 1.1], "nice": false, "zero": false}, "axis": {"values": [0, 0.25, 0.5, 0.75, 1], "tickCount": 50, "labelOverlap": false, "format": ".2f", "title": ["Normalized", "light area (AU)"]}},
               "color": {"field": "g", "type": "nominal", "scale": {"domain": ["DMOG", "Ctr"], "range": ["#a8a8a8", "black"]}, "legend": null}}},
            {"data": {"name": "curves"}, "transform": [{"filter": "datum.p == 6 && datum.b != 'fit'"}], "mark": {"type": "line", "interpolate": "monotone", "strokeWidth": 1, "strokeDash": [1.5, 1.5]},
             "encoding": {"x": {"field": "t", "type": "quantitative"}, "y": {"field": "v", "type": "quantitative"}, "color": {"field": "g", "type": "nominal", "legend": null}, "detail": {"field": "b"}}},
            {"data": {"name": "tp"}, "mark": {"type": "tick", "orient": "vertical", "color": "black", "size": 9, "thickness": 1.5}, "encoding": {"x": {"field": "t", "type": "quantitative"}, "y": {"datum": -0.1}}},
            {"data": {"name": "leg"}, "transform": [{"filter": "datum.p == 6 && datum.g != 'P'"}], "mark": {"type": "rule", "strokeWidth": 1.5},
             "encoding": {"x": {"field": "x1", "type": "quantitative"}, "x2": {"field": "x2"}, "y": {"field": "v", "type": "quantitative"}, "color": {"field": "g", "type": "nominal", "legend": null}}},
            {"data": {"name": "leg"}, "transform": [{"filter": "datum.p == 6"}], "mark": {"type": "text", "align": "left", "fontSize": 9, "color": "#222"},
             "encoding": {"x": {"field": "tx", "type": "quantitative"}, "y": {"field": "v", "type": "quantitative"}, "text": {"field": "label"}}}
           ]}
        ]
      }
    ]
  }
]
}
